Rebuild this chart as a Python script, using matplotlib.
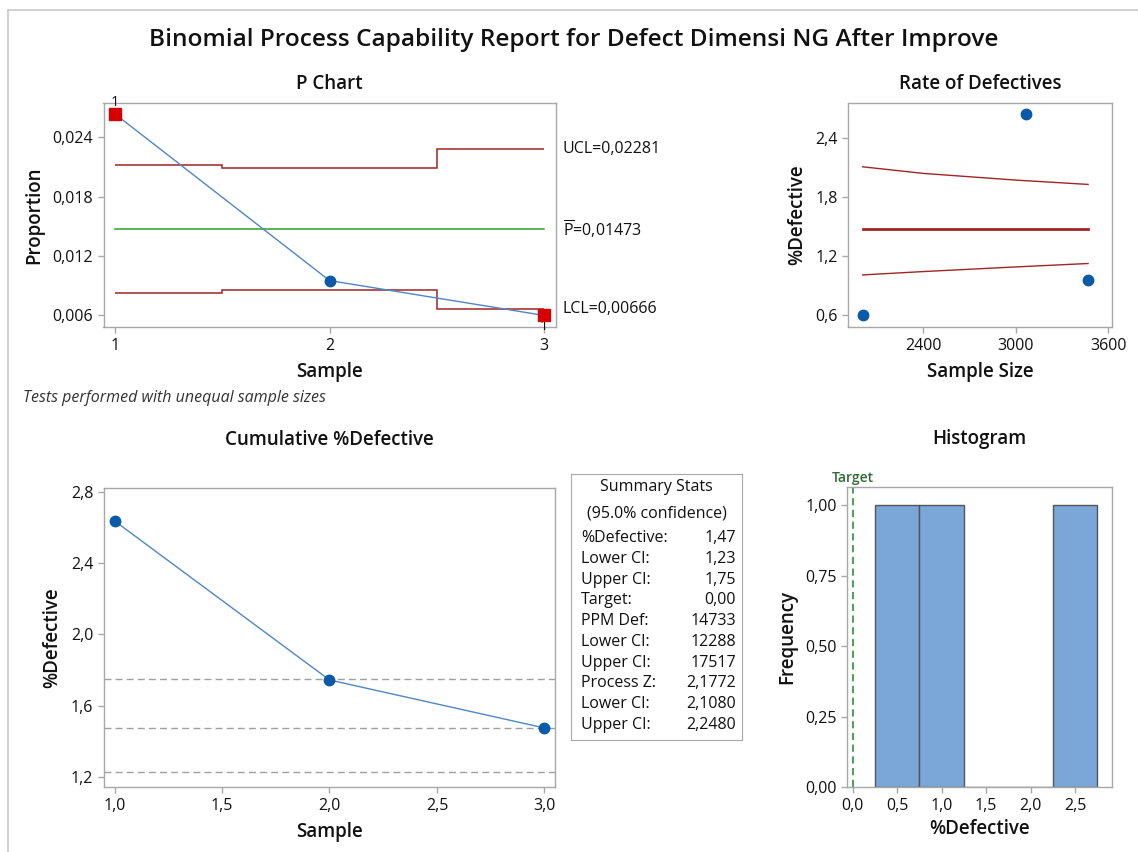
import matplotlib
matplotlib.use('Agg')
import matplotlib.pyplot as plt
from matplotlib.lines import Line2D
import numpy as np

plt.rcParams['font.family'] = ['Open Sans', 'DejaVu Sans']
plt.rcParams['mathtext.fontset'] = 'custom'
plt.rcParams['mathtext.rm'] = 'Open Sans'

# P chart data
samples = [1, 2, 3]
proportion = [0.02639, 0.00951, 0.00598]
ucl = [0.02125, 0.02087, 0.02281]
lcl = [0.00821, 0.00859, 0.00666]
p_bar = 0.01473
out_of_control = [True, False, True]

# Rate of defectives data
sample_size = [3069, 3469, 2007]
pct_defective = [2.639, 0.951, 0.598]
rate_n = [2007, 2400, 3000, 3469]
rate_upper = [2.105, 2.038, 1.970, 1.926]
rate_lower = [1.007, 1.041, 1.088, 1.123]
rate_center = 1.473

# Cumulative %defective
cum_pct = [2.639, 1.744, 1.474]
ci_lines = [1.75, 1.473, 1.225]

# Histogram
hist_edges = [0.25, 0.75, 1.25, 1.75, 2.25, 2.75]
target = 0.0

# Summary stats
stat_labels = ['%Defective:', 'Lower CI:', 'Upper CI:', 'Target:', 'PPM Def:',
               'Lower CI:', 'Upper CI:', 'Process Z:', 'Lower CI:', 'Upper CI:']
stat_values = ['1,47', '1,23', '1,75', '0,00', '14733', '12288', '17517',
               '2,1772', '2,1080', '2,2480']

W, H = 1138, 852
blue_line = '#4f86c6'
blue_pt = '#0a5aa8'
red_pt = '#d60000'
dark_red = '#a02525'
green = '#2ca02c'
spine_c = '#a8a8a8'
txt_c = '#111111'
lab_kw = dict(fontsize=13.5, fontweight='semibold', color=txt_c)


def rect(x0, y0, x1, y1):
    return [x0 / W, 1 - y1 / H, (x1 - x0) / W, (y1 - y0) / H]


def comma(v, nd):
    return f'{v:.{nd}f}'.replace('.', ',')


def style(ax):
    for s in ax.spines.values():
        s.set_color(spine_c)
        s.set_linewidth(1.0)
    ax.tick_params(colors=spine_c, labelcolor=txt_c, labelsize=11.5, length=4, width=1)


fig = plt.figure(figsize=(W / 100, H / 100), dpi=100)
fig.add_artist(Line2D([8 / W, 8 / W], [0, 1 - 9.5 / H], color='#c8c8c8', lw=1.2))
fig.add_artist(Line2D([8 / W, 1], [1 - 9.5 / H, 1 - 9.5 / H], color='#c8c8c8', lw=1.2))

fig.text(574 / W, 1 - 40 / H, 'Binomial Process Capability Report for Defect Dimensi NG After Improve',
         ha='center', va='center', fontsize=17.6, fontweight='semibold', color=txt_c)

# ---- P chart
ax1 = fig.add_axes(rect(103.5, 102.7, 555.6, 327.3))
style(ax1)
ax1.stairs(ucl, [1, 1.5, 2.5, 3], baseline=None, color=dark_red, lw=1.1)
ax1.stairs(lcl, [1, 1.5, 2.5, 3], baseline=None, color=dark_red, lw=1.1)
ax1.plot([1, 3], [p_bar, p_bar], color=green, lw=1.1)
ax1.plot(samples, proportion, color=blue_line, lw=1.0, zorder=3)
for s, p, bad in zip(samples, proportion, out_of_control):
    if bad:
        ax1.plot(s, p, 's', color=red_pt, ms=8, zorder=4, clip_on=False)
    else:
        ax1.plot(s, p, 'o', color=blue_pt, ms=7.5, zorder=4)
ax1.text(1, proportion[0] + 0.0004, '1', ha='center', va='bottom', fontsize=10.5, color=txt_c)
ax1.text(3, proportion[2] - 0.0004, '1', ha='center', va='top', fontsize=10.5, color=txt_c, clip_on=False)
ax1.set_xlim(0.947, 3.053)
ax1.set_ylim(0.00478, 0.02752)
ax1.set_xticks(samples)
ax1.set_xticklabels([str(s) for s in samples])
yt = [0.006, 0.012, 0.018, 0.024]
ax1.set_yticks(yt)
ax1.set_yticklabels([comma(v, 3) for v in yt])
ax1.set_xlabel('Sample', labelpad=6, **lab_kw)
ax1.set_ylabel('Proportion', labelpad=6, **lab_kw)
ax1.set_title('P Chart', pad=10, **lab_kw)
ax1.text(1.016, ucl[2], f'UCL={comma(ucl[2], 5)}', transform=ax1.get_yaxis_transform(),
         va='center', ha='left', fontsize=11.5, color=txt_c)
ax1.text(1.016, p_bar, r'$\overline{\mathrm{P}}$' + f'={comma(p_bar, 5)}',
         transform=ax1.get_yaxis_transform(), va='center', ha='left', fontsize=11.5, color=txt_c)
ax1.text(1.016, lcl[2], f'LCL={comma(lcl[2], 5)}', transform=ax1.get_yaxis_transform(),
         va='center', ha='left', fontsize=11.5, color=txt_c)
fig.text(23 / W, 1 - 398 / H, 'Tests performed with unequal sample sizes', fontsize=11.5,
         style='italic', va='center', ha='left', color='#333333')

# ---- Rate of defectives
ax2 = fig.add_axes(rect(848.3, 102.7, 1111.7, 327.3))
style(ax2)
ax2.plot(rate_n, rate_upper, color=dark_red, lw=1.0)
ax2.plot(rate_n, rate_lower, color=dark_red, lw=1.0)
ax2.plot([rate_n[0], rate_n[-1]], [rate_center, rate_center], color=dark_red, lw=2.0)
ax2.plot(sample_size, pct_defective, 'o', color=blue_pt, ms=7.5, zorder=4)
ax2.set_xlim(1914, 3622)
ax2.set_ylim(0.475, 2.756)
xt = [2400, 3000, 3600]
ax2.set_xticks(xt)
ax2.set_xticklabels([str(v) for v in xt])
yt = [0.6, 1.2, 1.8, 2.4]
ax2.set_yticks(yt)
ax2.set_yticklabels([comma(v, 1) for v in yt])
ax2.set_xlabel('Sample Size', labelpad=6, **lab_kw)
ax2.set_ylabel('%Defective', labelpad=6, **lab_kw)
ax2.set_title('Rate of Defectives', pad=10, **lab_kw)

# ---- Cumulative %Defective
ax3 = fig.add_axes(rect(103.6, 487.7, 555.4, 787.3))
style(ax3)
for v in ci_lines:
    ax3.axhline(v, color='#a0a0a0', lw=1.0, ls=(0, (5, 3)))
ax3.plot(samples, cum_pct, color=blue_line, lw=1.0, zorder=3)
ax3.plot(samples, cum_pct, 'o', color=blue_pt, ms=7.5, zorder=4)
ax3.set_xlim(0.949, 3.051)
ax3.set_ylim(1.140, 2.826)
xt = [1.0, 1.5, 2.0, 2.5, 3.0]
ax3.set_xticks(xt)
ax3.set_xticklabels([comma(v, 1) for v in xt])
yt = [1.2, 1.6, 2.0, 2.4, 2.8]
ax3.set_yticks(yt)
ax3.set_yticklabels([comma(v, 1) for v in yt])
ax3.set_xlabel('Sample', labelpad=6, **lab_kw)
ax3.set_ylabel('%Defective', labelpad=6, **lab_kw)
ax3.set_title('Cumulative %Defective', pad=31, **lab_kw)

# ---- Summary stats box
axs = fig.add_axes(rect(571, 474, 742, 740))
axs.set_xticks([])
axs.set_yticks([])
for s in axs.spines.values():
    s.set_color(spine_c)
axs.set_xlim(571, 742)
axs.set_ylim(740, 474)
axs.text(656.5, 487, 'Summary Stats', ha='center', va='center', fontsize=11.5, color=txt_c)
axs.text(656.5, 513, '(95.0% confidence)', ha='center', va='center', fontsize=11.5, color=txt_c)
row_y = np.linspace(538, 725, len(stat_labels))
for yy, lab, val in zip(row_y, stat_labels, stat_values):
    axs.text(581, yy, lab, ha='left', va='center', fontsize=11.5, color=txt_c)
    axs.text(736, yy, val, ha='right', va='center', fontsize=11.5, color=txt_c)

# ---- Histogram
ax4 = fig.add_axes(rect(847.3, 486.7, 1111.7, 787.3))
style(ax4)
ax4.hist(pct_defective, bins=hist_edges, color='#7ba6d8', edgecolor='#555555', linewidth=1.0)
ax4.axvline(target, color='#3a9a4a', lw=1.3, ls=(0, (4, 2.5)))
ax4.text(target, 1.072, 'Target', ha='center', va='bottom', fontsize=10, fontweight='semibold',
         color='#2f6b35', transform=ax4.transData)
ax4.set_xlim(-0.06, 2.913)
ax4.set_ylim(0, 1.065)
xt = [0.0, 0.5, 1.0, 1.5, 2.0, 2.5]
ax4.set_xticks(xt)
ax4.set_xticklabels([comma(v, 1) for v in xt])
yt = [0.0, 0.25, 0.5, 0.75, 1.0]
ax4.set_yticks(yt)
ax4.set_yticklabels([comma(v, 2) for v in yt])
ax4.set_xlabel('%Defective', labelpad=4, **lab_kw)
ax4.set_ylabel('Frequency', labelpad=6, **lab_kw)
ax4.set_title('Histogram', pad=31, **lab_kw)

fig.savefig('out.png', dpi=100)
